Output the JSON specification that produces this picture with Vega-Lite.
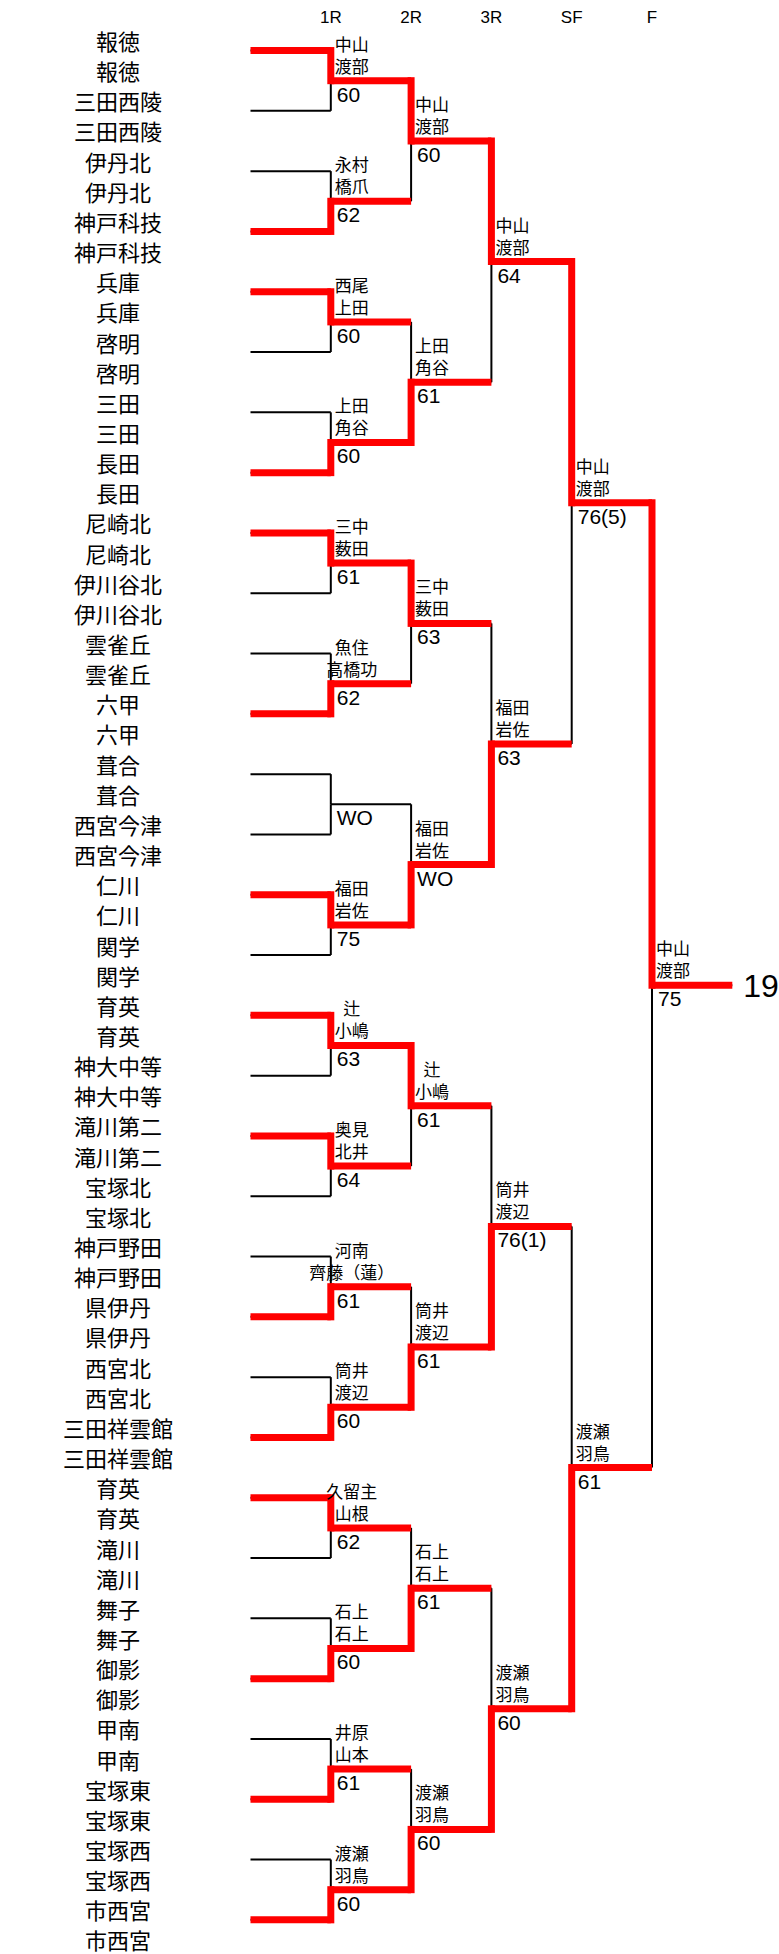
{
  "$schema": "https://vega.github.io/schema/vega-lite/v6.json",
  "width": 779,
  "height": 1954,
  "autosize": "none",
  "padding": 0,
  "background": "white",
  "config": {"view": {"stroke": null}},
  "datasets": {
    "entries": [
      {"a":0,"b":1,"y":0.25,"yo":1.25,"w":1,"h":1},
      {"a":0,"b":1,"y":2.25,"yo":1.25,"w":0,"h":0},
      {"a":0,"b":1,"y":4.25,"yo":5.25,"w":0,"h":0},
      {"a":0,"b":1,"y":6.25,"yo":5.25,"w":1,"h":1},
      {"a":0,"b":1,"y":8.25,"yo":9.25,"w":1,"h":1},
      {"a":0,"b":1,"y":10.25,"yo":9.25,"w":0,"h":0},
      {"a":0,"b":1,"y":12.25,"yo":13.25,"w":0,"h":0},
      {"a":0,"b":1,"y":14.25,"yo":13.25,"w":1,"h":1},
      {"a":0,"b":1,"y":16.25,"yo":17.25,"w":1,"h":1},
      {"a":0,"b":1,"y":18.25,"yo":17.25,"w":0,"h":0},
      {"a":0,"b":1,"y":20.25,"yo":21.25,"w":0,"h":0},
      {"a":0,"b":1,"y":22.25,"yo":21.25,"w":1,"h":1},
      {"a":0,"b":1,"y":24.25,"yo":25.25,"w":0,"h":0},
      {"a":0,"b":1,"y":26.25,"yo":25.25,"w":0,"h":0},
      {"a":0,"b":1,"y":28.25,"yo":29.25,"w":1,"h":1},
      {"a":0,"b":1,"y":30.25,"yo":29.25,"w":0,"h":0},
      {"a":0,"b":1,"y":32.25,"yo":33.25,"w":1,"h":1},
      {"a":0,"b":1,"y":34.25,"yo":33.25,"w":0,"h":0},
      {"a":0,"b":1,"y":36.25,"yo":37.25,"w":1,"h":1},
      {"a":0,"b":1,"y":38.25,"yo":37.25,"w":0,"h":0},
      {"a":0,"b":1,"y":40.25,"yo":41.25,"w":0,"h":0},
      {"a":0,"b":1,"y":42.25,"yo":41.25,"w":1,"h":1},
      {"a":0,"b":1,"y":44.25,"yo":45.25,"w":0,"h":0},
      {"a":0,"b":1,"y":46.25,"yo":45.25,"w":1,"h":1},
      {"a":0,"b":1,"y":48.25,"yo":49.25,"w":1,"h":1},
      {"a":0,"b":1,"y":50.25,"yo":49.25,"w":0,"h":0},
      {"a":0,"b":1,"y":52.25,"yo":53.25,"w":0,"h":0},
      {"a":0,"b":1,"y":54.25,"yo":53.25,"w":1,"h":1},
      {"a":0,"b":1,"y":56.25,"yo":57.25,"w":0,"h":0},
      {"a":0,"b":1,"y":58.25,"yo":57.25,"w":1,"h":1},
      {"a":0,"b":1,"y":60.25,"yo":61.25,"w":0,"h":0},
      {"a":0,"b":1,"y":62.25,"yo":61.25,"w":1,"h":1},
      {"a":1,"b":2,"y":1.25,"yo":3.25,"w":1,"h":1},
      {"a":1,"b":2,"y":5.25,"yo":3.25,"w":0,"h":1},
      {"a":1,"b":2,"y":9.25,"yo":11.25,"w":0,"h":1},
      {"a":1,"b":2,"y":13.25,"yo":11.25,"w":1,"h":1},
      {"a":1,"b":2,"y":17.25,"yo":19.25,"w":1,"h":1},
      {"a":1,"b":2,"y":21.25,"yo":19.25,"w":0,"h":1},
      {"a":1,"b":2,"y":25.25,"yo":27.25,"w":0,"h":0},
      {"a":1,"b":2,"y":29.25,"yo":27.25,"w":1,"h":1},
      {"a":1,"b":2,"y":33.25,"yo":35.25,"w":1,"h":1},
      {"a":1,"b":2,"y":37.25,"yo":35.25,"w":0,"h":1},
      {"a":1,"b":2,"y":41.25,"yo":43.25,"w":0,"h":1},
      {"a":1,"b":2,"y":45.25,"yo":43.25,"w":1,"h":1},
      {"a":1,"b":2,"y":49.25,"yo":51.25,"w":0,"h":1},
      {"a":1,"b":2,"y":53.25,"yo":51.25,"w":1,"h":1},
      {"a":1,"b":2,"y":57.25,"yo":59.25,"w":0,"h":1},
      {"a":1,"b":2,"y":61.25,"yo":59.25,"w":1,"h":1},
      {"a":2,"b":3,"y":3.25,"yo":7.25,"w":1,"h":1},
      {"a":2,"b":3,"y":11.25,"yo":7.25,"w":0,"h":1},
      {"a":2,"b":3,"y":19.25,"yo":23.25,"w":0,"h":1},
      {"a":2,"b":3,"y":27.25,"yo":23.25,"w":1,"h":1},
      {"a":2,"b":3,"y":35.25,"yo":39.25,"w":0,"h":1},
      {"a":2,"b":3,"y":43.25,"yo":39.25,"w":1,"h":1},
      {"a":2,"b":3,"y":51.25,"yo":55.25,"w":0,"h":1},
      {"a":2,"b":3,"y":59.25,"yo":55.25,"w":1,"h":1},
      {"a":3,"b":4,"y":7.25,"yo":15.25,"w":1,"h":1},
      {"a":3,"b":4,"y":23.25,"yo":15.25,"w":0,"h":1},
      {"a":3,"b":4,"y":39.25,"yo":47.25,"w":0,"h":1},
      {"a":3,"b":4,"y":55.25,"yo":47.25,"w":1,"h":1},
      {"a":4,"b":5,"y":15.25,"yo":31.25,"w":1,"h":1},
      {"a":4,"b":5,"y":47.25,"yo":31.25,"w":0,"h":1},
      {"a":5,"b":6,"y":31.25,"yo":31.25,"w":0,"h":1}
    ],
    "teams": [
      {"r":0,"t":"報徳"},{"r":1,"t":"報徳"},{"r":2,"t":"三田西陵"},{"r":3,"t":"三田西陵"},
      {"r":4,"t":"伊丹北"},{"r":5,"t":"伊丹北"},{"r":6,"t":"神戸科技"},{"r":7,"t":"神戸科技"},
      {"r":8,"t":"兵庫"},{"r":9,"t":"兵庫"},{"r":10,"t":"啓明"},{"r":11,"t":"啓明"},
      {"r":12,"t":"三田"},{"r":13,"t":"三田"},{"r":14,"t":"長田"},{"r":15,"t":"長田"},
      {"r":16,"t":"尼崎北"},{"r":17,"t":"尼崎北"},{"r":18,"t":"伊川谷北"},{"r":19,"t":"伊川谷北"},
      {"r":20,"t":"雲雀丘"},{"r":21,"t":"雲雀丘"},{"r":22,"t":"六甲"},{"r":23,"t":"六甲"},
      {"r":24,"t":"葺合"},{"r":25,"t":"葺合"},{"r":26,"t":"西宮今津"},{"r":27,"t":"西宮今津"},
      {"r":28,"t":"仁川"},{"r":29,"t":"仁川"},{"r":30,"t":"関学"},{"r":31,"t":"関学"},
      {"r":32,"t":"育英"},{"r":33,"t":"育英"},{"r":34,"t":"神大中等"},{"r":35,"t":"神大中等"},
      {"r":36,"t":"滝川第二"},{"r":37,"t":"滝川第二"},{"r":38,"t":"宝塚北"},{"r":39,"t":"宝塚北"},
      {"r":40,"t":"神戸野田"},{"r":41,"t":"神戸野田"},{"r":42,"t":"県伊丹"},{"r":43,"t":"県伊丹"},
      {"r":44,"t":"西宮北"},{"r":45,"t":"西宮北"},{"r":46,"t":"三田祥雲館"},{"r":47,"t":"三田祥雲館"},
      {"r":48,"t":"育英"},{"r":49,"t":"育英"},{"r":50,"t":"滝川"},{"r":51,"t":"滝川"},
      {"r":52,"t":"舞子"},{"r":53,"t":"舞子"},{"r":54,"t":"御影"},{"r":55,"t":"御影"},
      {"r":56,"t":"甲南"},{"r":57,"t":"甲南"},{"r":58,"t":"宝塚東"},{"r":59,"t":"宝塚東"},
      {"r":60,"t":"宝塚西"},{"r":61,"t":"宝塚西"},{"r":62,"t":"市西宮"},{"r":63,"t":"市西宮"}
    ],
    "matches": [
      {"b":1,"yo":1.25,"n":"中山\n渡部","s":"60"},
      {"b":1,"yo":5.25,"n":"永村\n橋爪","s":"62"},
      {"b":1,"yo":9.25,"n":"西尾\n上田","s":"60"},
      {"b":1,"yo":13.25,"n":"上田\n角谷","s":"60"},
      {"b":1,"yo":17.25,"n":"三中\n薮田","s":"61"},
      {"b":1,"yo":21.25,"n":"魚住\n高橋功","s":"62"},
      {"b":1,"yo":25.25,"n":"","s":"WO"},
      {"b":1,"yo":29.25,"n":"福田\n岩佐","s":"75"},
      {"b":1,"yo":33.25,"n":"辻\n小嶋","s":"63"},
      {"b":1,"yo":37.25,"n":"奥見\n北井","s":"64"},
      {"b":1,"yo":41.25,"n":"河南\n齊藤（蓮）","s":"61"},
      {"b":1,"yo":45.25,"n":"筒井\n渡辺","s":"60"},
      {"b":1,"yo":49.25,"n":"久留主\n山根","s":"62"},
      {"b":1,"yo":53.25,"n":"石上\n石上","s":"60"},
      {"b":1,"yo":57.25,"n":"井原\n山本","s":"61"},
      {"b":1,"yo":61.25,"n":"渡瀬\n羽鳥","s":"60"},
      {"b":2,"yo":3.25,"n":"中山\n渡部","s":"60"},
      {"b":2,"yo":11.25,"n":"上田\n角谷","s":"61"},
      {"b":2,"yo":19.25,"n":"三中\n薮田","s":"63"},
      {"b":2,"yo":27.25,"n":"福田\n岩佐","s":"WO"},
      {"b":2,"yo":35.25,"n":"辻\n小嶋","s":"61"},
      {"b":2,"yo":43.25,"n":"筒井\n渡辺","s":"61"},
      {"b":2,"yo":51.25,"n":"石上\n石上","s":"61"},
      {"b":2,"yo":59.25,"n":"渡瀬\n羽鳥","s":"60"},
      {"b":3,"yo":7.25,"n":"中山\n渡部","s":"64"},
      {"b":3,"yo":23.25,"n":"福田\n岩佐","s":"63"},
      {"b":3,"yo":39.25,"n":"筒井\n渡辺","s":"76(1)"},
      {"b":3,"yo":55.25,"n":"渡瀬\n羽鳥","s":"60"},
      {"b":4,"yo":15.25,"n":"中山\n渡部","s":"76(5)"},
      {"b":4,"yo":47.25,"n":"渡瀬\n羽鳥","s":"61"},
      {"b":5,"yo":31.25,"n":"中山\n渡部","s":"75"}
    ],
    "rounds": [
      {"u":1,"t":"1R"},{"u":2,"t":"2R"},{"u":3,"t":"3R"},{"u":4,"t":"SF"},{"u":5,"t":"F"}
    ],
    "result": [{"u":6,"yo":31.25,"t":"19"}]
  },
  "layer": [
    {
      "data": {"name": "entries"},
      "mark": {"type": "rule", "color": "#000000", "strokeWidth": 2},
      "encoding": {
        "x": {"field": "a", "type": "quantitative", "scale": {"domain": [-3.1196, 6.5816], "nice": false, "zero": false}, "axis": null},
        "x2": {"field": "b"},
        "y": {"field": "y", "type": "quantitative", "scale": {"domain": [-1.4262, 63.383], "nice": false, "zero": false, "reverse": true}, "axis": null}
      }
    },
    {
      "data": {"name": "entries"},
      "mark": {"type": "rule", "color": "#000000", "strokeWidth": 2},
      "encoding": {
        "x": {"field": "b", "type": "quantitative", "scale": {"domain": [-3.1196, 6.5816], "nice": false, "zero": false}, "axis": null},
        "y": {"field": "y", "type": "quantitative", "scale": {"domain": [-1.4262, 63.383], "nice": false, "zero": false, "reverse": true}, "axis": null},
        "y2": {"field": "yo"}
      }
    },
    {
      "data": {"name": "entries"},
      "transform": [{"filter": "datum.h == 1"}],
      "mark": {"type": "rule", "color": "#ff0000", "strokeWidth": 7, "strokeCap": "butt"},
      "encoding": {
        "x": {"field": "a", "type": "quantitative", "scale": {"domain": [-3.1196, 6.5816], "nice": false, "zero": false}, "axis": null},
        "x2": {"field": "b"},
        "y": {"field": "y", "type": "quantitative", "scale": {"domain": [-1.4262, 63.383], "nice": false, "zero": false, "reverse": true}, "axis": null}
      }
    },
    {
      "data": {"name": "entries"},
      "transform": [{"filter": "datum.w == 1"}],
      "mark": {"type": "rule", "color": "#ff0000", "strokeWidth": 7, "strokeCap": "square"},
      "encoding": {
        "x": {"field": "b", "type": "quantitative", "scale": {"domain": [-3.1196, 6.5816], "nice": false, "zero": false}, "axis": null},
        "y": {"field": "y", "type": "quantitative", "scale": {"domain": [-1.4262, 63.383], "nice": false, "zero": false, "reverse": true}, "axis": null},
        "y2": {"field": "yo"}
      }
    },
    {
      "data": {"name": "teams"},
      "mark": {"type": "text", "font": "Noto Sans CJK JP", "fontSize": 22, "align": "center", "baseline": "middle", "color": "#000000"},
      "encoding": {
        "x": {"datum": -1.65, "type": "quantitative", "scale": {"domain": [-3.1196, 6.5816], "nice": false, "zero": false}, "axis": null},
        "y": {"field": "r", "type": "quantitative", "scale": {"domain": [-1.4262, 63.383], "nice": false, "zero": false, "reverse": true}, "axis": null},
        "text": {"field": "t"}
      }
    },
    {
      "data": {"name": "rounds"},
      "mark": {"type": "text", "font": "Liberation Sans", "fontSize": 17, "align": "center", "baseline": "middle", "color": "#000000"},
      "encoding": {
        "x": {"field": "u", "type": "quantitative", "scale": {"domain": [-3.1196, 6.5816], "nice": false, "zero": false}, "axis": null},
        "y": {"datum": -0.83, "type": "quantitative", "scale": {"domain": [-1.4262, 63.383], "nice": false, "zero": false, "reverse": true}, "axis": null},
        "text": {"field": "t"}
      }
    },
    {
      "data": {"name": "matches"},
      "mark": {"type": "text", "font": "Noto Sans CJK JP", "fontSize": 17, "align": "center", "baseline": "middle", "lineBreak": "\n", "lineHeight": 22, "dx": 21, "dy": -35, "color": "#000000"},
      "encoding": {
        "x": {"field": "b", "type": "quantitative", "scale": {"domain": [-3.1196, 6.5816], "nice": false, "zero": false}, "axis": null},
        "y": {"field": "yo", "type": "quantitative", "scale": {"domain": [-1.4262, 63.383], "nice": false, "zero": false, "reverse": true}, "axis": null},
        "text": {"field": "n"}
      }
    },
    {
      "data": {"name": "matches"},
      "mark": {"type": "text", "font": "Liberation Sans", "fontSize": 21, "align": "left", "baseline": "middle", "dx": 6, "dy": 15, "color": "#000000"},
      "encoding": {
        "x": {"field": "b", "type": "quantitative", "scale": {"domain": [-3.1196, 6.5816], "nice": false, "zero": false}, "axis": null},
        "y": {"field": "yo", "type": "quantitative", "scale": {"domain": [-1.4262, 63.383], "nice": false, "zero": false, "reverse": true}, "axis": null},
        "text": {"field": "s"}
      }
    },
    {
      "data": {"name": "result"},
      "mark": {"type": "text", "font": "Liberation Sans", "fontSize": 32, "align": "left", "baseline": "middle", "dx": 11, "dy": 2, "color": "#000000"},
      "encoding": {
        "x": {"field": "u", "type": "quantitative", "scale": {"domain": [-3.1196, 6.5816], "nice": false, "zero": false}, "axis": null},
        "y": {"field": "yo", "type": "quantitative", "scale": {"domain": [-1.4262, 63.383], "nice": false, "zero": false, "reverse": true}, "axis": null},
        "text": {"field": "t"}
      }
    }
  ]
}
